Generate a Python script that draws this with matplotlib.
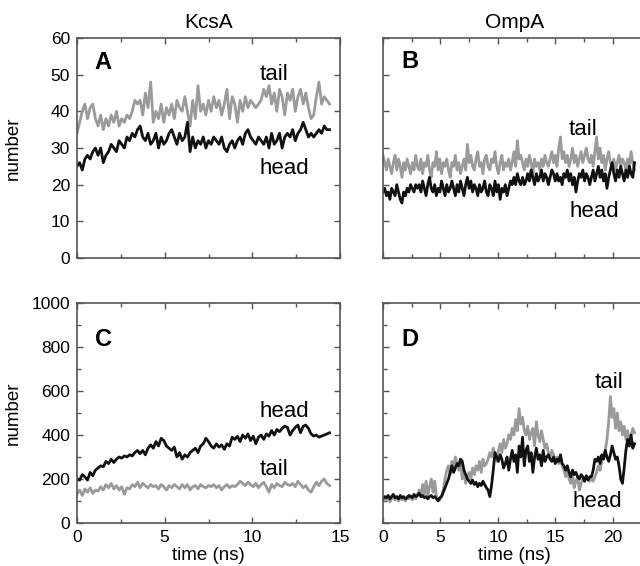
import numpy as np
import matplotlib
matplotlib.use('Agg')
import matplotlib.pyplot as plt
from matplotlib.ticker import MultipleLocator

plt.rcParams['font.family'] = ['Liberation Sans', 'DejaVu Sans']
plt.rcParams['font.size'] = 12.5

DT = 0.15  # ns between samples

# panel A: KcsA, number of lipid contacts (0-60)
kcsa_tail_a = [34, 37, 40, 42, 38, 41, 42, 38, 36,
               39, 35, 38, 36, 39, 37, 40, 36, 38, 37, 39, 38,
               40, 43, 42, 43, 39, 45, 41, 48,
               37, 40, 38, 42, 37, 41, 39, 42, 38, 43, 41, 40,
               44, 40, 36, 43, 38, 47, 40, 42, 39, 43,
               40, 44, 41, 43, 39, 42, 46, 38, 44, 42,
               37, 43, 40, 44, 41, 43, 42, 41, 42, 43,
               46, 44, 47, 42, 45, 40, 46, 44, 39, 45,
               43, 46, 40, 44, 46, 42, 45, 41, 38, 39,
               44, 48, 42, 44, 43, 42]
kcsa_head_a = [25, 26, 24, 27, 28, 27, 29, 30, 28,
               30, 26, 28, 29, 31, 30, 29, 32, 31, 30, 33, 32,
               34, 33, 35, 36, 33, 32, 34, 31,
               32, 34, 30, 33, 31, 32, 34, 35, 33, 31, 34, 32,
               33, 37, 29, 33, 30, 32, 31, 33, 30, 32,
               31, 33, 32, 31, 33, 30, 29, 31, 32, 30,
               32, 33, 31, 34, 35, 33, 32, 31, 33, 32,
               31, 33, 30, 34, 31, 32, 34, 30, 33, 34,
               33, 35, 32, 34, 35, 37, 35, 33, 34, 33,
               34, 35, 34, 36, 35, 35]

# panel C: KcsA (0-1000)
kcsa_head_c = [200, 195, 220, 210, 195, 230, 215, 240, 250,
               260, 255, 280, 270, 290, 275, 290, 300, 295, 305, 300, 310,
               305, 320, 330, 315, 330, 310, 340, 355,
               340, 370, 350, 385, 375, 350, 340, 330, 345, 300, 320, 290,
               310, 300, 320, 330, 340, 320, 350, 360, 385, 370,
               350, 340, 360, 345, 355, 335, 360, 350, 390, 380,
               395, 370, 400, 385, 405, 375, 395, 360, 390, 400,
               380, 405, 395, 420, 400, 425, 415, 430, 440, 435,
               400, 420, 435, 445, 410, 440, 445, 430, 405, 395,
               400, 390, 395, 400, 405, 410]
kcsa_tail_c = [130, 150, 125, 155, 140, 160, 135, 150, 145,
               165, 150, 175, 160, 180, 155, 170, 150, 165, 130, 160, 155,
               175, 165, 185, 160, 180, 170, 160, 175,
               165, 170, 155, 175, 165, 150, 170, 160, 175, 165, 155, 175,
               160, 175, 150, 165, 170, 155, 175, 165, 160, 170,
               165, 175, 160, 170, 150, 165, 175, 160, 170, 165,
               175, 190, 180, 170, 185, 175, 165, 180, 160, 175,
               185, 165, 140, 175, 160, 180, 170, 165, 185, 175,
               170, 180, 165, 190, 175, 160, 170, 150, 140, 165,
               185, 170, 190, 200, 180, 170]

# panel B: OmpA (0-60)
ompa_tail_b = [28, 26, 24, 27, 25, 23, 26, 28, 24, 27, 25, 22, 26, 24, 27, 25, 23, 26, 24, 28, 25,
               24, 27, 23, 26, 25, 28, 24, 22, 26, 25, 29, 24, 27, 23, 26, 25, 27, 24, 22, 26,
               25, 28, 24, 26, 23, 25, 27, 24, 31, 26, 28, 25, 24, 27, 29, 25, 26, 23, 27, 28,
               25, 24, 27, 26, 29, 25, 23, 26, 28, 24, 26, 25, 27, 24, 26, 29, 25, 32, 27, 28,
               26, 24, 27, 25, 28, 26, 23, 27, 25, 26, 24, 27, 25, 28, 26, 25, 27, 29, 26, 28,
               25, 30, 33, 27, 29, 26, 28, 25, 27, 30, 26, 28, 25, 27, 29, 26, 28, 30, 27, 26,
               28, 25, 29, 33, 27, 30, 26, 28, 24, 27, 29, 26, 25, 27, 24, 26, 28, 25, 27, 26,
               24, 27, 25, 29, 26, 24]
ompa_head_b = [18, 19, 17, 18, 16, 19, 18, 17, 20, 18, 16, 15, 18, 17, 19, 18, 20, 19, 18, 20, 19,
               20, 18, 21, 19, 17, 20, 22, 19, 18, 20, 17, 19, 18, 21, 19, 17, 20, 18, 19, 21,
               19, 17, 20, 18, 21, 19, 17, 20, 22, 19, 21, 18, 20, 19, 17, 20, 18, 19, 21, 18,
               17, 20, 19, 17, 21, 18, 20, 16, 19, 18, 20, 17, 19, 21, 20, 22, 20, 23, 21, 20,
               22, 20, 21, 23, 21, 24, 22, 20, 23, 21, 22, 24, 21, 23, 22, 20, 22, 24, 23, 21,
               23, 21, 22, 20, 23, 22, 24, 21, 23, 20, 22, 18, 21, 23, 22, 24, 21, 23, 22, 20,
               22, 24, 21, 23, 25, 22, 24, 21, 23, 19, 22, 24, 26, 23, 21, 24, 22, 25, 23, 21,
               24, 22, 25, 23, 22, 26]

# panel D: OmpA (0-1000)
ompa_head_d = [110, 120, 115, 125, 110, 120, 130, 115, 120, 110, 125, 115, 120, 110, 115, 125, 120, 115, 130, 120, 125,
               135, 120, 125, 115, 120, 110, 120, 125, 115, 120, 110, 100, 115, 120, 140, 160, 180, 200, 230, 260,
               230, 250, 270, 260, 290, 280, 240, 220, 200, 190, 180, 195, 175, 185, 165, 180, 170, 190, 175, 160,
               150, 120, 170, 240, 320, 300, 280, 310, 290, 250, 270, 300, 240, 290, 330, 280, 310, 230, 350, 300,
               390, 260, 330, 350, 280, 320, 230, 300, 340, 290, 310, 260, 330, 280, 300, 310, 290, 280, 300, 270,
               290, 280, 310, 270, 260, 240, 260, 230, 210, 240, 220, 230, 210, 200, 220, 210, 190, 215, 195, 210,
               210, 240, 290, 280, 300, 270, 310, 290, 330, 300, 280, 310, 350, 320, 290, 300, 260, 200, 180, 250,
               330, 380, 350, 400, 340, 360]
ompa_tail_d = [100, 115, 105, 120, 95, 110, 125, 105, 115, 100, 120, 105, 115, 100, 120, 110, 125, 105, 120, 110, 130,
               150, 120, 175, 130, 190, 125, 165, 200, 140, 190, 120, 110, 105, 125, 150, 200, 240, 260, 220, 280,
               250, 300, 270, 240, 290, 200, 240, 180, 210, 230, 200, 250, 220, 260, 240, 280, 230, 290, 260, 270,
               290, 320, 300, 340, 310, 280, 330, 360, 320, 380, 340, 360, 400, 380, 430, 400, 470, 420, 520, 450,
               480, 420, 400, 440, 380, 410, 430, 350, 460, 400, 370, 420, 380, 340, 360, 320, 300, 330, 310, 280,
               300, 270, 290, 260, 240, 210, 250, 200, 180, 220, 160, 190, 210, 150, 180, 200, 190, 210, 200, 190,
               200, 190, 210, 230, 260, 240, 280, 300, 330, 380, 460, 575, 480, 520, 430, 500, 420, 460, 400, 440,
               380, 420, 360, 400, 430, 410]

GRAY = '#9a9a9a'
BLACK = '#111111'
SPINE = '#555555'

W, H = 640, 566
fig = plt.figure(figsize=(W / 100, H / 100), dpi=100)


def box(l, t, w, h):
    return [l / W, (H - t - h) / H, w / W, h / H]


axA = fig.add_axes(box(77, 38, 263, 220))
axB = fig.add_axes(box(383, 38, 263, 220))
axC = fig.add_axes(box(77, 303, 263, 220))
axD = fig.add_axes(box(383, 303, 263, 220))


def draw(ax, tail, head, xmax, ymax, ymaj, ymin_):
    t1 = np.arange(len(tail)) * DT
    t2 = np.arange(len(head)) * DT
    ax.plot(t1, tail, color=GRAY, lw=2.0)
    ax.plot(t2, head, color=BLACK, lw=2.0)
    ax.set_xlim(0, xmax)
    ax.set_ylim(0, ymax)
    ax.xaxis.set_major_locator(MultipleLocator(5))
    ax.xaxis.set_minor_locator(MultipleLocator(2.5))
    ax.yaxis.set_major_locator(MultipleLocator(ymaj))
    if ymin_:
        ax.yaxis.set_minor_locator(MultipleLocator(ymin_))
    ax.tick_params(which='both', direction='in', top=True, right=True,
                   color=SPINE, width=1.0, pad=5, labelsize=12.5)
    ax.tick_params(which='major', length=4)
    ax.tick_params(which='minor', length=3)
    for s in ax.spines.values():
        s.set_color(SPINE)
        s.set_linewidth(1.2)


draw(axA, kcsa_tail_a, kcsa_head_a, 15, 60, 10, None)
draw(axB, ompa_tail_b, ompa_head_b, 22.9, 60, 10, None)
draw(axC, kcsa_tail_c, kcsa_head_c, 15, 1000, 200, 100)
draw(axD, ompa_tail_d, ompa_head_d, 22.9, 1000, 200, 100)

axA.tick_params(labelbottom=False)
axB.tick_params(labelbottom=False, labelleft=False)
axD.tick_params(labelleft=False)

axA.set_title('KcsA', fontsize=15, pad=7)
axB.set_title('OmpA', fontsize=15, pad=7)

for ax in (axA, axC):
    ax.set_ylabel('number', fontsize=13.5)
    ax.yaxis.set_label_coords(-0.21, 0.5)
for ax in (axC, axD):
    ax.set_xlabel('time (ns)', fontsize=13.5)
    ax.xaxis.set_label_coords(0.5, -0.11)

for ax, letter, y in ((axA, 'A', 0.94), (axB, 'B', 0.945), (axC, 'C', 0.885), (axD, 'D', 0.885)):
    ax.text(0.068, y, letter, transform=ax.transAxes, fontsize=17,
            fontweight='bold', va='top', ha='left')

lab = dict(fontsize=16, ha='left', va='baseline')
axA.text(10.4, 48.5, 'tail', **lab)
axA.text(10.4, 22.9, 'head', **lab)
axB.text(16.2, 33.5, 'tail', **lab)
axB.text(16.2, 11.3, 'head', **lab)
axC.text(10.4, 483, 'head', **lab)
axC.text(10.4, 218, 'tail', **lab)
axD.text(18.4, 613, 'tail', **lab)
axD.text(16.5, 74, 'head', **lab)

fig.savefig('out.png', dpi=100)
